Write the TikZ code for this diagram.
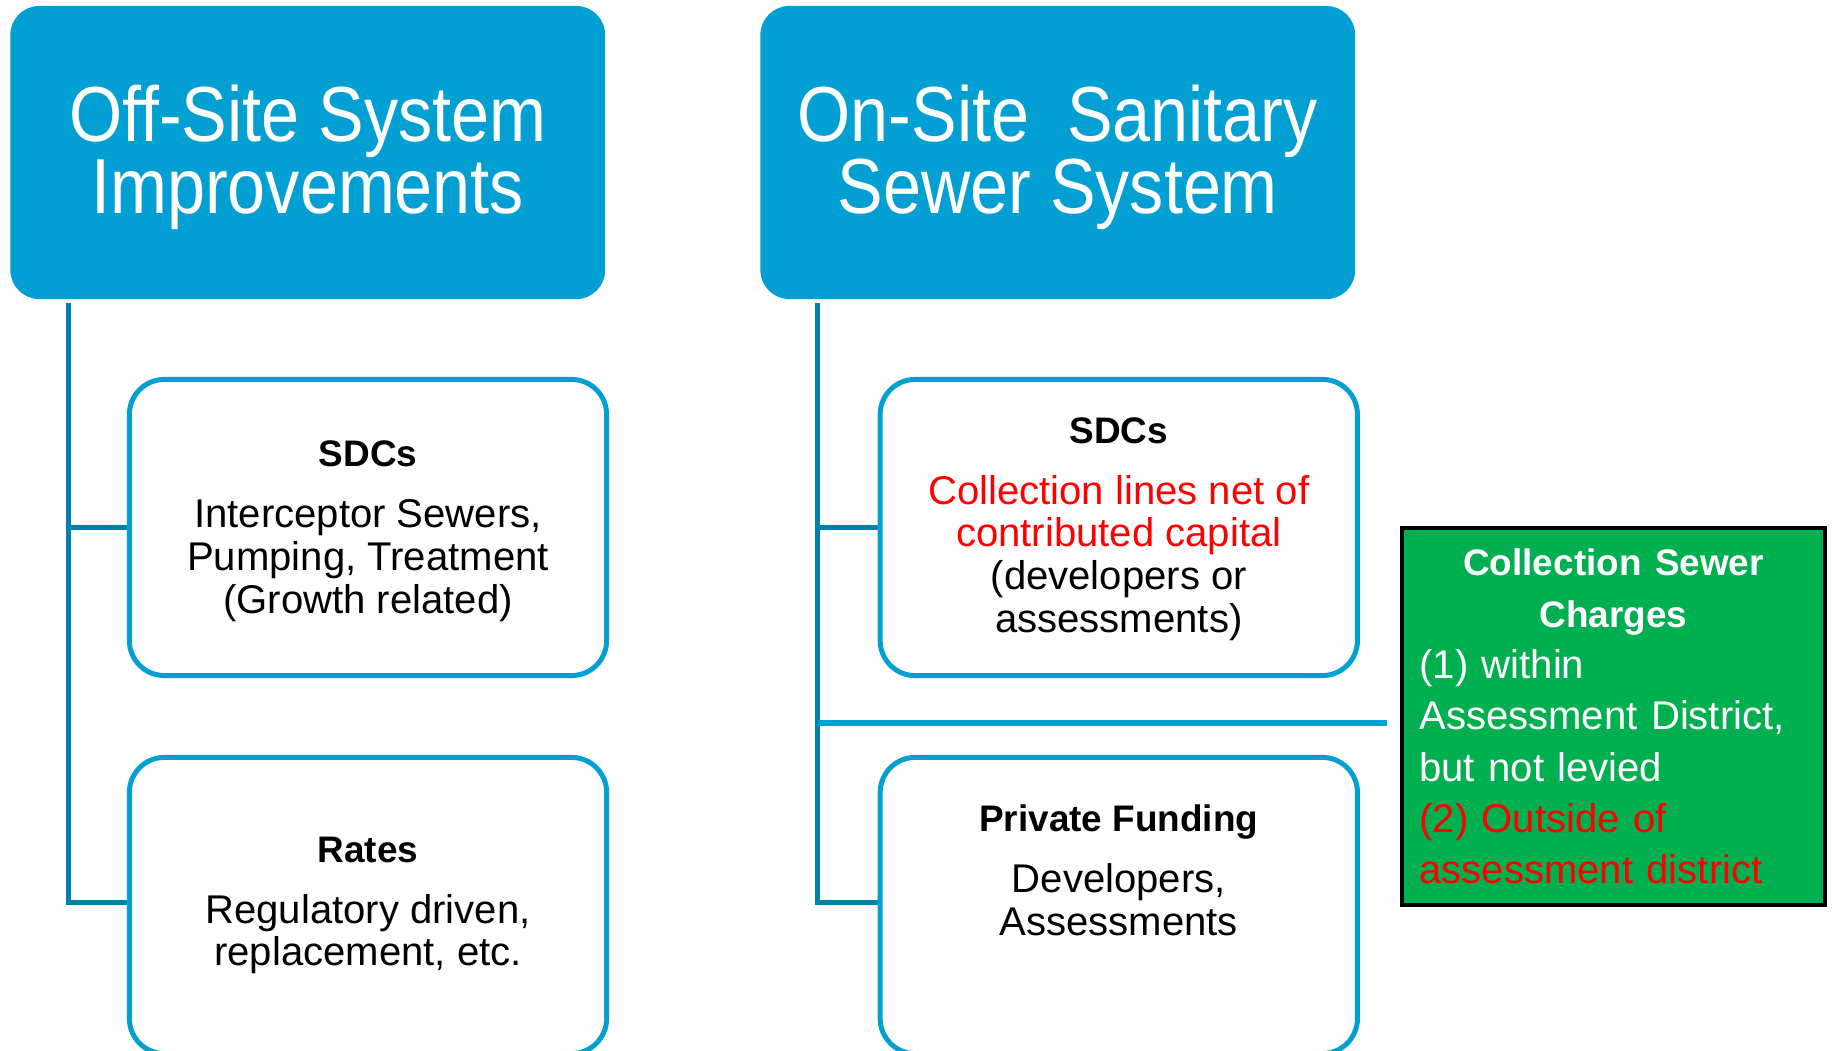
\documentclass[tikz,border=0pt]{standalone}
\usepackage{fontspec}
\setmainfont{Liberation Sans}
\newfontfamily\titlefont[FakeStretch=0.875]{Liberation Sans}
\usepackage{tikz}
\setlength{\parindent}{0pt}
\definecolor{headblue}{RGB}{2,160,210}
\definecolor{linkblue}{RGB}{0,128,170}
\definecolor{chggreen}{RGB}{0,176,80}
\definecolor{warnred}{RGB}{255,0,0}
\tikzset{
  headbox/.style={rectangle, rounded corners=0.29cm, fill=headblue, text=white,
    minimum width=5.945cm, minimum height=2.93cm, align=center, inner sep=0pt,
    text depth=0.07cm, font={\titlefont\fontsize{22.2}{20.6}\selectfont}},
  itembox/.style={rectangle, rounded corners=0.35cm, draw=headblue, line width=1.42pt,
    fill=white, minimum width=4.77cm, minimum height=2.96cm, align=center, inner sep=0pt,
    font={\fontsize{11.4}{12.2}\selectfont}},
  chgbox/.style={rectangle, draw=black, line width=1.2pt, fill=chggreen, text=white,
    minimum width=4.23cm, minimum height=3.77cm, text width=3.88cm, align=left,
    inner sep=0pt, font={\fontsize{11.4}{14.6}\selectfont}},
  branch/.style={draw=linkblue, line width=1.42pt},
  tapline/.style={draw=headblue, line width=1.6pt}}
\newcommand{\boxhead}[1]{{\bfseries\fontsize{10.5}{12.2}\selectfont #1}\\[0.18cm]}

\begin{document}
\begin{tikzpicture}[x=0.01cm,y=-0.01cm]
\useasboundingbox (0,0) rectangle (1832,1051);
% heads
\node [headbox] (offsite) at (307.75,152.5) {Off-Site System\\Improvements};
\node [headbox] (onsite) at (1057.8,152.5) {On-Site~ Sanitary\\Sewer System};
% branches
\draw [branch] ([xshift=0.585cm,yshift=-0.03cm]offsite.south west) |- (368,527.5);
\draw [branch] ([xshift=0.585cm,yshift=-0.03cm]offsite.south west) |- (368,902);
\draw [branch] ([xshift=0.574cm,yshift=-0.03cm]onsite.south west) |- (1118.8,527.5);
\draw [branch] ([xshift=0.574cm,yshift=-0.03cm]onsite.south west) |- (1118.8,902);
\node [chgbox] (charges) at (1613.5,716.5) {{\centering\bfseries\fontsize{10.5}{14.6}\selectfont
  Collection Sewer\\ Charges\par}
  (1) within\\ Assessment District,\\ but not levied\\
  {\color{warnred}(2) Outside of\\ assessment district}};
\coordinate (tap) at (818,723);
\coordinate (tapend) at ([xshift=-0.13cm]charges.west);
\draw [tapline] (tap) -- (tap -| tapend);
% boxes
\node [itembox, text depth=0.01cm] (sdcoff) at (368,527.5) {\boxhead{SDCs}
  Interceptor Sewers,\\ Pumping, Treatment\\ (Growth related)};
\node [itembox] (rates) at (368,905.5) {\boxhead{Rates}
  Regulatory driven,\\ replacement, etc.};
\node [itembox, text depth=0.05cm] (sdcon) at (1118.8,527.5) {\boxhead{SDCs}
  \textcolor{warnred}{Collection lines net of}\\ \textcolor{warnred}{contributed capital}\\
  (developers or\\ assessments)};
\node [itembox, text depth=0.7cm] (private) at (1118.8,905.5) {\boxhead{Private Funding}
  Developers,\\ Assessments};
\end{tikzpicture}
\end{document}
